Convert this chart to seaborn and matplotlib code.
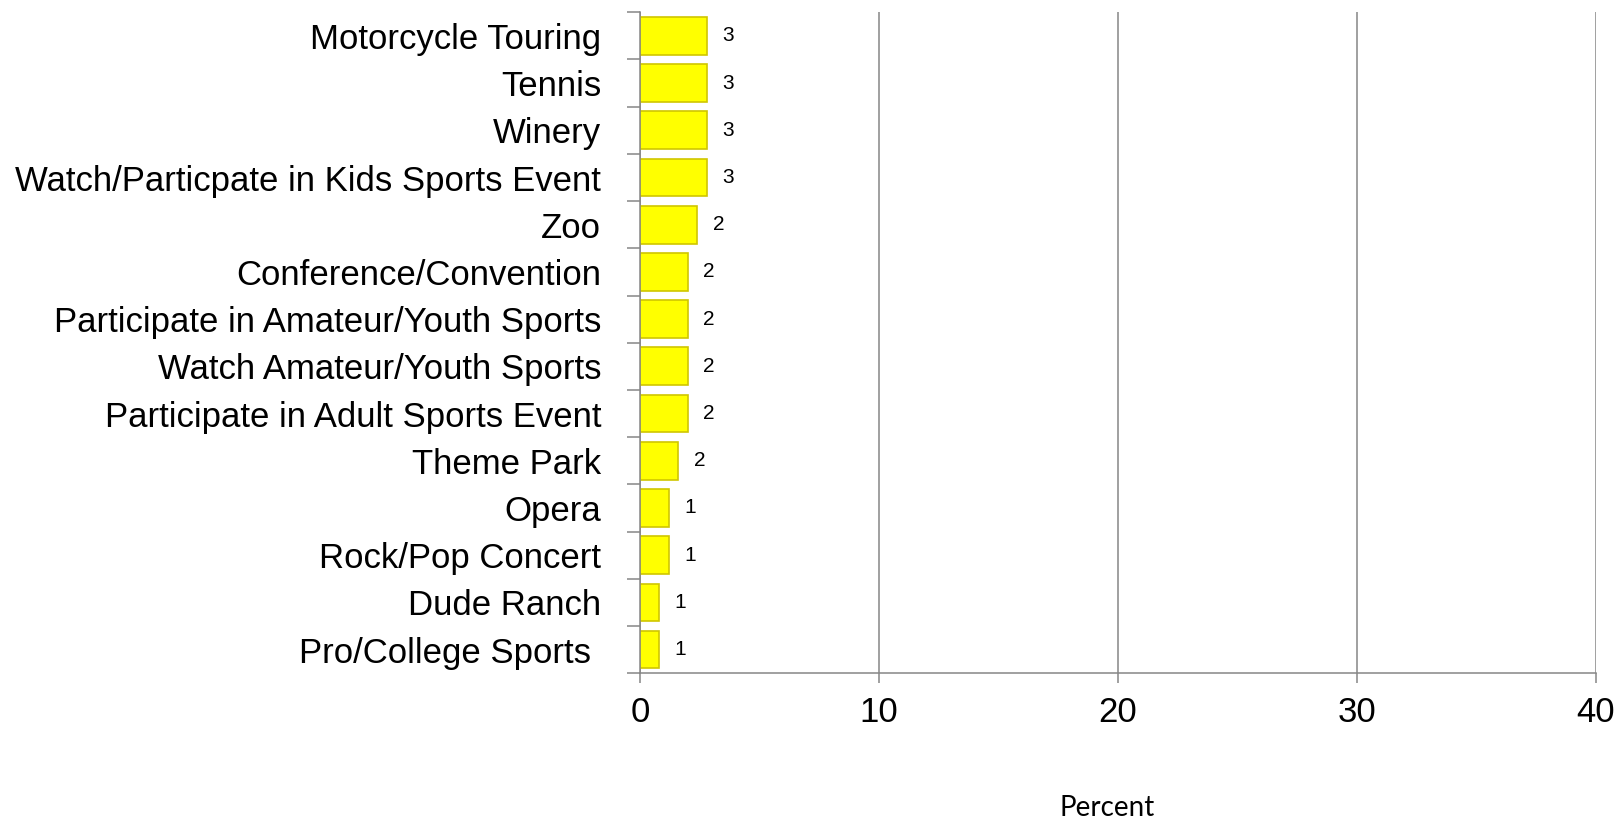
import matplotlib
matplotlib.use('Agg')
import matplotlib.pyplot as plt
import seaborn as sns
import pandas as pd
import numpy as np

activities = ['Motorcycle Touring', 'Tennis', 'Winery', 'Watch/Particpate in Kids Sports Event', 'Zoo',
              'Conference/Convention', 'Participate in Amateur/Youth Sports', 'Watch Amateur/Youth Sports',
              'Participate in Adult Sports Event', 'Theme Park', 'Opera', 'Rock/Pop Concert', 'Dude Ranch',
              'Pro/College Sports ']
percent = [2.8, 2.8, 2.8, 2.8, 2.4, 2.0, 2.0, 2.0, 2.0, 1.6, 1.2, 1.2, 0.8, 0.8]
x_ticks = [0, 10, 20, 30, 40]

df = pd.DataFrame({'Activity': activities, 'Percent': percent})

sns.set_style('white')
plt.rcParams['font.family'] = ['Liberation Sans', 'DejaVu Sans']
plt.rcParams['text.color'] = 'black'
plt.rcParams['xtick.color'] = 'black'
plt.rcParams['ytick.color'] = 'black'

fig = plt.figure(figsize=(16.19, 8.19), dpi=100)
ax = fig.add_axes([0.3953, 0.178, 0.5905, 0.807])

sns.barplot(data=df, x='Percent', y='Activity', orient='h', color='#FFFF00', saturation=1,
            edgecolor='#CFC600', linewidth=1.2, width=0.8, ax=ax)

# value labels
ax.bar_label(ax.containers[0], fmt='{:.0f}', padding=11, fontsize=15, color='black')

ax.set_xlim(0, 40)
ax.set_ylim(len(activities) - 0.5, -0.5)
ax.set_xticks(x_ticks)
ax.set_xticklabels([str(t) for t in x_ticks], fontsize=25, color='black')

# category labels, ticks at category boundaries
ax.set_yticks(range(len(activities)))
ax.set_yticklabels(activities, fontsize=25, color='black')
ax.set_yticks(np.arange(-0.5, len(activities), 1.0), minor=True)
ax.tick_params(axis='y', which='major', length=0, pad=28)
ax.tick_params(axis='y', which='minor', length=9.4, width=1.1, color='#868686', direction='out', left=True)
ax.tick_params(axis='x', which='major', length=7.2, width=1.1, color='#868686', direction='out', bottom=True, pad=9)

ax.grid(True, axis='x', color='#868686', linewidth=1.1)
ax.grid(False, axis='y')
ax.set_axisbelow(True)

for s in ['top', 'right']:
    ax.spines[s].set_visible(False)
for s in ['left', 'bottom']:
    ax.spines[s].set_color('#868686')
    ax.spines[s].set_linewidth(1.1)

ax.set_ylabel('')
ax.set_xlabel('Percent', fontsize=20, family=['Lato', 'DejaVu Sans'], color='black')
ax.xaxis.set_label_coords(0.4885, -0.184)

fig.savefig('out.png', dpi=100)
